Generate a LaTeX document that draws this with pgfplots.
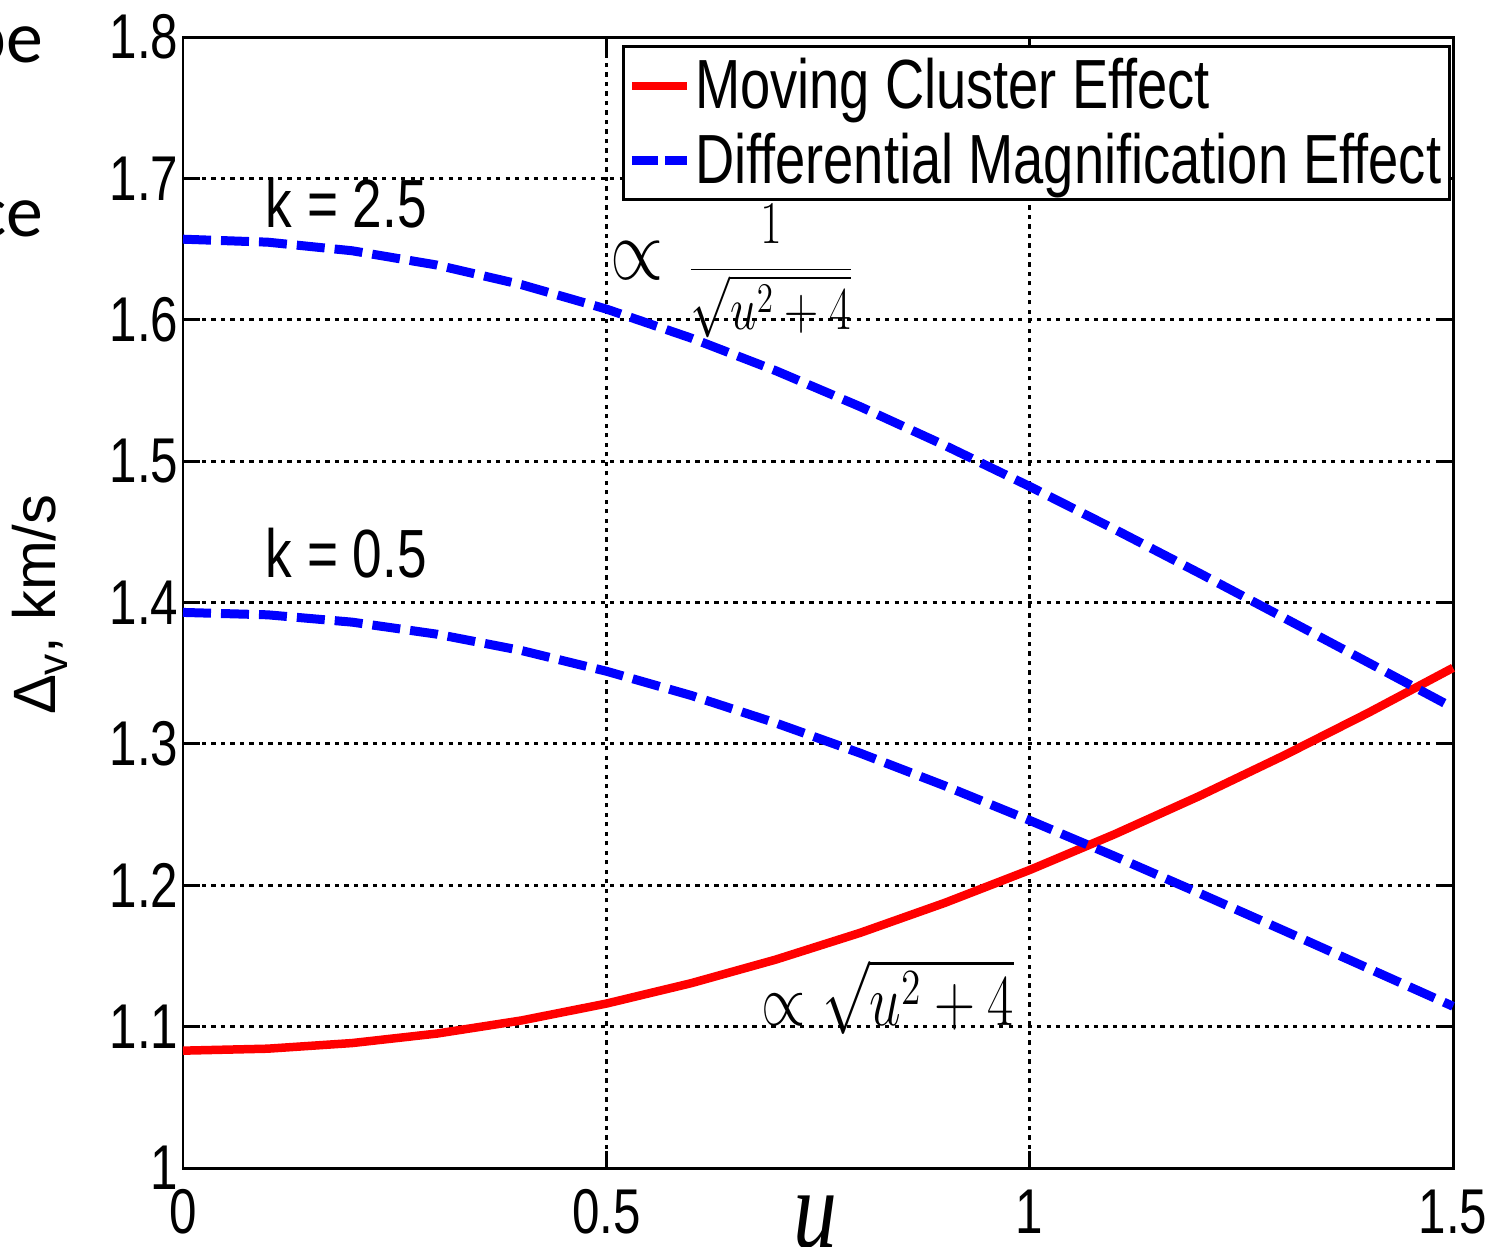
\documentclass[border=0pt]{standalone}
\usepackage{fontspec}
\setmainfont{Liberation Sans}
\newfontfamily\slidefont{Carlito}
\newfontfamily\serifit{Liberation Serif}
\usepackage{graphicx}
\usepackage{pgfplots}
\pgfplotsset{compat=1.18}

% MATLAB export looks horizontally squeezed
\newcommand{\cnd}[1]{\scalebox{0.78}[1]{#1}}

\pgfplotstableread{
u     dv
0.0   1.0830
0.1   1.0844
0.2   1.0884
0.3   1.0951
0.4   1.1044
0.5   1.1163
0.6   1.1307
0.7   1.1474
0.8   1.1664
0.9   1.1876
1.0   1.2108
1.1   1.2360
1.2   1.2630
1.3   1.2917
1.4   1.3220
1.5   1.3538
}\movingcluster

\pgfplotstableread{
u     dv
0.0   1.6570
0.1   1.6549
0.2   1.6488
0.3   1.6387
0.4   1.6248
0.5   1.6076
0.6   1.5871
0.7   1.5640
0.8   1.5385
0.9   1.5111
1.0   1.4821
1.1   1.4519
1.2   1.4209
1.3   1.3893
1.4   1.3575
1.5   1.3256
}\diffmagA

\pgfplotstableread{
u     dv
0.0   1.3930
0.1   1.3913
0.2   1.3861
0.3   1.3776
0.4   1.3660
0.5   1.3514
0.6   1.3343
0.7   1.3148
0.8   1.2934
0.9   1.2703
1.0   1.2459
1.1   1.2206
1.2   1.1945
1.3   1.1680
1.4   1.1412
1.5   1.1144
}\diffmagB

\begin{document}
\begin{tikzpicture}
  \begin{axis}[
    at={(18.3mm,7.8mm)}, anchor=south west,
    scale only axis, width=127mm, height=113.1mm,
    xmin=0, xmax=1.5, ymin=1, ymax=1.8,
    xtick={0,0.5,1,1.5},
    ytick={1,1.1,1.2,1.3,1.4,1.5,1.6,1.7,1.8},
    xticklabels={\cnd{0},\cnd{0.5},\cnd{1},\cnd{1.5}},
    yticklabels={\cnd{1},\cnd{1.1},\cnd{1.2},\cnd{1.3},\cnd{1.4},\cnd{1.5},\cnd{1.6},\cnd{1.7},\cnd{1.8}},
    ticklabel style={font=\fontsize{18}{18}\selectfont, inner sep=0pt},
    xticklabel style={anchor=north, yshift=-2.1mm},
    yticklabel style={anchor=east, xshift=-0.4mm},
    axis line style={line width=0.85pt},
    tick style={black, line width=0.85pt},
    major tick length=1.7mm,
    grid=major,
    major grid style={black, line width=0.8pt, dash pattern=on 1.2pt off 1.5pt},
    clip=false,
    legend cell align=left,
    legend style={at={(0.3457,0.9929)}, anchor=north west, draw=black, line width=0.85pt,
      font=\fontsize{19.8}{20}\selectfont, inner xsep=0.4mm, inner ysep=0.35mm,
      row sep=0.3mm, nodes={inner xsep=0.4mm, inner ysep=0.8mm}},
  ]
    \addplot[red, line width=0.85mm,
      legend image code/.code={\draw[red, line width=0.85mm] (0mm,0mm) -- (5.5mm,0mm);}]
      table[x=u, y=dv] {\movingcluster};
    \addlegendentry{\cnd{Moving Cluster Effect}}
    \addplot[blue, line width=0.9mm, dash pattern=on 2.8mm off 1.0mm,
      legend image code/.code={\draw[blue, line width=0.85mm, dash pattern=on 2.6mm off 0.7mm] (0mm,0mm) -- (5.5mm,0mm);}]
      table[x=u, y=dv] {\diffmagA};
    \addlegendentry{\cnd{Differential Magnification Effect}}
    \addplot[blue, line width=0.9mm, dash pattern=on 2.8mm off 1.0mm, forget plot]
      table[x=u, y=dv] {\diffmagB};

    \node[anchor=base west, inner sep=0pt, font=\fontsize{19.4}{20}\selectfont]
      at (axis cs:0.097,1.6655) {\cnd{k = 2.5}};
    \node[anchor=base west, inner sep=0pt, font=\fontsize{19.4}{20}\selectfont]
      at (axis cs:0.097,1.418) {\cnd{k = 0.5}};
    \node[inner sep=0pt, font=\fontsize{24}{24}\selectfont]
      at (axis cs:0.536,1.642) {\cnd{$\propto$}};
    \node[inner sep=0pt, font=\fontsize{16.5}{16.5}\selectfont]
      at (axis cs:0.6945,1.6345) {\cnd{$\displaystyle\frac{1}{\sqrt{u^2+4}}$}};
    \node[inner sep=0pt, font=\fontsize{20}{20}\selectfont]
      at (axis cs:0.8327,1.121) {\cnd{$\propto\sqrt{u^2+4}$}};

    \node[rotate=90, inner sep=0pt, font=\fontsize{17}{17}\selectfont]
      at (axis description cs:-0.1126,0.498) {Δ\raisebox{-0.4ex}{\fontsize{12}{12}\selectfont v}, km/s};
    \node[anchor=north, inner sep=0pt, font=\serifit\itshape\fontsize{32}{32}\selectfont]
      at (axis description cs:0.4976,-0.024) {\cnd{u}};
  \end{axis}
  \node[anchor=base east, inner sep=0pt, font=\slidefont\fontsize{21}{21}\selectfont] at (4.4mm,118.3mm) {pe};
  \node[anchor=base east, inner sep=0pt, font=\slidefont\fontsize{21}{21}\selectfont] at (4.4mm,100.9mm) {ce};
  \pgfresetboundingbox
  \useasboundingbox (0,0) rectangle (149.5mm,124.6mm);
\end{tikzpicture}
\end{document}
